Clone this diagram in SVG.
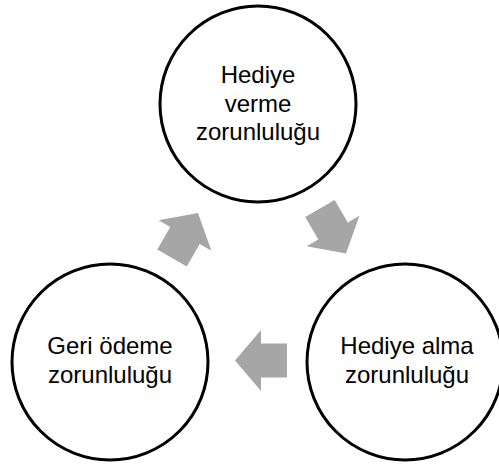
<svg xmlns="http://www.w3.org/2000/svg" width="499" height="465" viewBox="0 0 499 465">
  <defs>
    <style>
      .node { fill: #ffffff; stroke: #000000; stroke-width: 3; }
      .label { font-family: "Liberation Sans", Arial, sans-serif; font-size: 24px; fill: #000000; text-anchor: middle; }
      .arrow { fill: #A6A6A6; }
    </style>
    <!-- block arrow pointing along +x, centred on the origin -->
    <path id="cycleArrow" d="M26,0 L0,-30.5 L0,-17 L-26,-17 L-26,17 L0,17 L0,30.5 Z"/>
  </defs>
  <rect width="499" height="465" fill="#ffffff"/>

  <g id="connectors">
    <use href="#cycleArrow" class="arrow" transform="translate(185,235.5) rotate(-60)"/>
    <use href="#cycleArrow" class="arrow" transform="translate(333,231) rotate(60)"/>
    <use href="#cycleArrow" class="arrow" transform="translate(261,360.5) rotate(180)"/>
  </g>

  <g id="node-hediye-verme">
    <circle class="node" cx="258" cy="104" r="98"/>
    <text class="label" x="258" y="83">Hediye</text>
    <text class="label" x="258" y="112">verme</text>
    <text class="label" x="258" y="140">zorunluluğu</text>
  </g>

  <g id="node-hediye-alma">
    <circle class="node" cx="405" cy="362" r="98"/>
    <text class="label" x="407" y="354">Hediye alma</text>
    <text class="label" x="407" y="383">zorunluluğu</text>
  </g>

  <g id="node-geri-odeme">
    <circle class="node" cx="110" cy="362" r="98"/>
    <text class="label" x="110" y="354">Geri ödeme</text>
    <text class="label" x="110" y="383">zorunluluğu</text>
  </g>
</svg>
